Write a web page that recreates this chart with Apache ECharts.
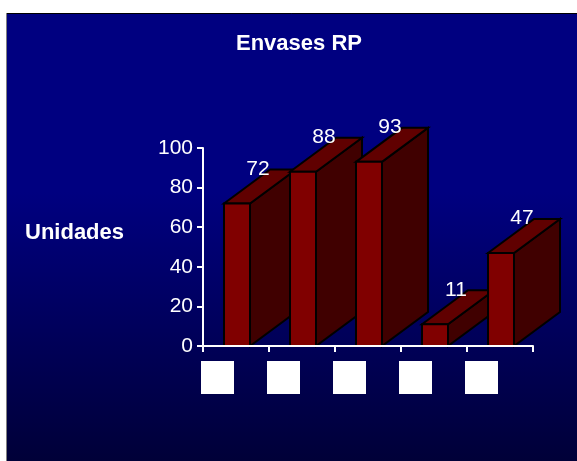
<!DOCTYPE html>
<html><head><meta charset="utf-8">
<style>html,body{margin:0;padding:0;background:#fff}#c{width:577px;height:461px}</style>
<script src="https://cdn.jsdelivr.net/npm/echarts@6/dist/echarts.min.js"></script>
</head><body><div id="c"></div>
<script>
const categories = ['1','2','3','4','5'];
const values = [72,88,93,11,47];
const yTicks = [0,20,40,60,80,100];
const titleText = 'Envases RP';
const yName = 'Unidades';

const chart = echarts.init(document.getElementById('c'), null, {renderer:'canvas'});
const FONT = '"Liberation Sans", Arial, sans-serif';
const DX = 46, DY = 34, BW = 26;
function renderBar(params, api){
  const idx = api.value(0), v = api.value(1);
  const base = api.coord([idx, 0]), top = api.coord([idx, v]);
  const l = base[0] - BW/2 + 1, r = l + BW, t = top[1], b = base[1];
  const ln = {stroke:'#000', lineWidth:2, lineJoin:'miter'};
  return {type:'group', children:[
    {type:'polygon', shape:{points:[[r,t],[r+DX,t-DY],[r+DX,b-DY],[r,b]]}, style:Object.assign({fill:'#400000'},ln)},
    {type:'polygon', shape:{points:[[l,t],[l+DX,t-DY],[r+DX,t-DY],[r,t]]}, style:Object.assign({fill:'#600000'},ln)},
    {type:'rect', shape:{x:l,y:t,width:BW,height:b-t}, style:Object.assign({fill:'#800000'},ln)},
    {type:'rect', z2:50, shape:{x:base[0]-35,y:b+15,width:33,height:33}, style:{fill:'#fff'}},
    {type:'text', z2:60, x:base[0]+22, y:t-34.5, style:{text:String(v), fill:'#fff', font:'21px '+FONT, align:'center', verticalAlign:'middle'}}
  ]};
}
chart.setOption({
  animation:false,
  graphic:[
    {type:'rect', z:-10, shape:{x:6,y:13,width:571,height:448}, style:{fill:new echarts.graphic.LinearGradient(0,0,0,1,[{offset:0,color:'#000080'},{offset:0.4,color:'#000080'},{offset:1,color:'#000038'}])}},
    {type:'line', z:-9, shape:{x1:6,y1:13.5,x2:577,y2:13.5}, style:{stroke:'#000',lineWidth:1}},
    {type:'line', z:-9, shape:{x1:6.5,y1:13,x2:6.5,y2:461}, style:{stroke:'#808080',lineWidth:1}}
  ],
  title:[
    {text:titleText,left:236,top:33,textStyle:{color:'#fff',fontFamily:FONT,fontSize:22,fontWeight:'bold'},padding:0},
    {text:yName,left:25,top:222,textStyle:{color:'#fff',fontFamily:FONT,fontSize:22,fontWeight:'bold'},padding:0}
  ],
  grid:{left:203,top:148,width:330,height:198,containLabel:false,outerBoundsMode:'none'},
  xAxis:{type:'category',data:categories,z:5,boundaryGap:true,
    axisLine:{show:true,lineStyle:{color:'#fff',width:2}},
    axisTick:{show:true,length:6,alignWithLabel:false,lineStyle:{color:'#fff',width:2}},
    axisLabel:{show:false},splitLine:{show:false}},
  yAxis:{type:'value',min:yTicks[0],max:yTicks[yTicks.length-1],interval:20,z:5,
    axisLine:{show:true,lineStyle:{color:'#fff',width:2}},
    axisTick:{show:true,length:6,lineStyle:{color:'#fff',width:2}},
    axisLabel:{color:'#fff',fontFamily:FONT,fontSize:21,margin:10},splitLine:{show:false}},
  series:[{type:'custom',clip:false,renderItem:renderBar,encode:{x:0,y:1},data:values.map((v,i)=>[i,v])}]
});
</script></body></html>
